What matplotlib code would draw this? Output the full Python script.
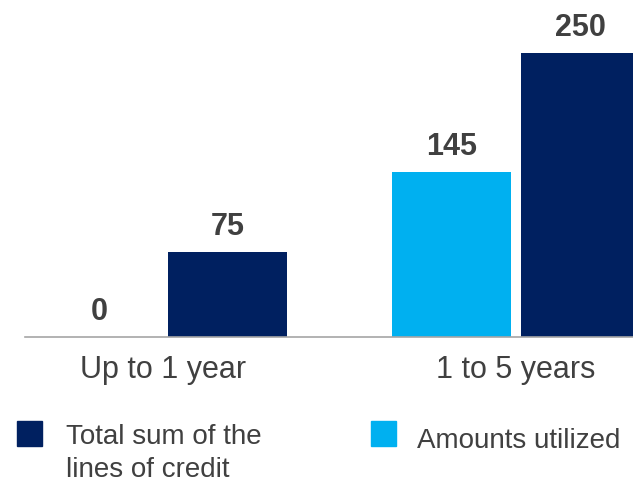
import matplotlib.pyplot as plt
from matplotlib.patches import Rectangle

plt.rcParams['font.family'] = ['Liberation Sans', 'DejaVu Sans']

categories = ["Up to 1 year", "1 to 5 years"]
utilized = [0, 145]
total = [75, 250]
series_labels = ["Total sum of the\nlines of credit", "Amounts utilized"]

navy = "#002060"
cyan = "#00B0F0"
text_grey = "#404040"

W, H = 633, 481
fig = plt.figure(figsize=(W / 100, H / 100), dpi=100)
ax = fig.add_axes([25 / W, 143 / H, 1 - 25 / W, 1 - 143 / H])

x = list(range(len(categories)))
width = 0.3376
offset = 0.183
b1 = ax.bar([i - offset for i in x], utilized, width, color=cyan)
b2 = ax.bar([i + offset for i in x], total, width, color=navy)

for bars in (b1, b2):
    ax.bar_label(bars, padding=8, fontsize=22, fontweight='bold', color=text_grey)

ax.set_xlim(-0.3929, 1.332)
ax.set_ylim(0, 297.6)
ax.set_xticks(x, categories, fontsize=22, color=text_grey)
ax.tick_params(axis='x', length=0, pad=12)
ax.set_yticks([])
for side in ("top", "left", "right"):
    ax.spines[side].set_visible(False)
ax.spines["bottom"].set_color("#A6A6A6")
ax.spines["bottom"].set_linewidth(1.2)

# legend drawn by hand: one square and label per series
def legend_item(x0, y0, color, label, tx, ty):
    fig.add_artist(Rectangle((x0 / W, 1 - (y0 + 25) / H), 25 / W, 25 / H,
                             transform=fig.transFigure, color=color))
    fig.text(tx / W, 1 - ty / H, label, fontsize=20,
             color=text_grey, va='top', ha='left', linespacing=1.35)

legend_item(17, 422, navy, series_labels[0], 66, 424)
legend_item(371, 422, cyan, series_labels[1], 417, 428)

fig.savefig("out.png", dpi=100)
